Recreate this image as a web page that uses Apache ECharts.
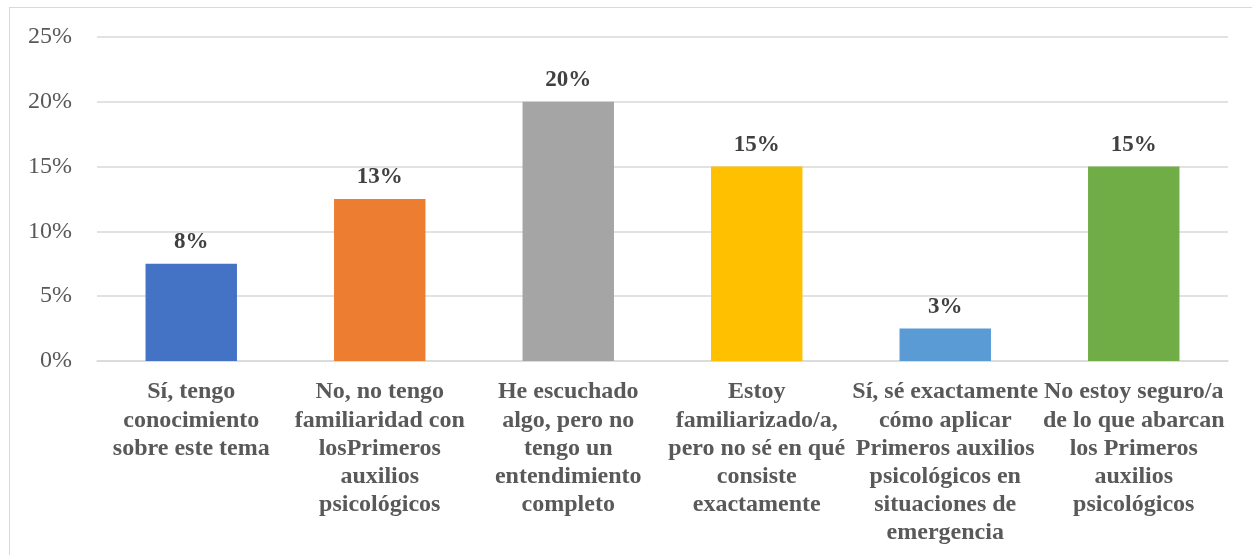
<!DOCTYPE html>
<html>
<head>
<meta charset="utf-8">
<script src="https://cdn.jsdelivr.net/npm/echarts@6/dist/echarts.min.js"></script>
<style>
  html, body { margin: 0; padding: 0; background: #fff; }
  #frame { position: absolute; left: 9px; top: 7px; width: 1260px; height: 560px; border-left: 1px solid #D9D9D9; border-top: 1px solid #D9D9D9; }
  #chart { position: absolute; left: 0; top: 0; width: 1252px; height: 555px; }
</style>
</head>
<body>
<div id="frame"></div>
<div id="chart"></div>
<script>
const categories = [
  'Sí, tengo\nconocimiento\nsobre este tema',
  'No, no tengo\nfamiliaridad con\nlosPrimeros\nauxilios\npsicológicos',
  'He escuchado\nalgo, pero no\ntengo un\nentendimiento\ncompleto',
  'Estoy\nfamiliarizado/a,\npero no sé en qué\nconsiste\nexactamente',
  'Sí, sé exactamente\ncómo aplicar\nPrimeros auxilios\npsicológicos en\nsituaciones de\nemergencia',
  'No estoy seguro/a\nde lo que abarcan\nlos Primeros\nauxilios\npsicológicos'
];
const values = [0.075, 0.125, 0.20, 0.15, 0.025, 0.15];
const valueLabels = ['8%', '13%', '20%', '15%', '3%', '15%'];
const colors = ['#4472C4', '#ED7D31', '#A5A5A5', '#FFC000', '#5B9BD5', '#70AD47'];

const chart = echarts.init(document.getElementById('chart'), null, { renderer: 'canvas' });
chart.setOption({
  animation: false,
  grid: { left: 97, right: 24, top: 37, bottom: 194 },
  xAxis: {
    type: 'category',
    data: categories,
    axisLine: { show: true, lineStyle: { color: '#D9D9D9', width: 1.5 } },
    axisTick: { show: false },
    axisLabel: {
      interval: 0,
      margin: 17,
      color: '#595959',
      fontFamily: '"Liberation Serif", "Times New Roman", serif',
      fontWeight: 'bold',
      fontSize: 24,
      lineHeight: 28.2
    }
  },
  yAxis: {
    type: 'value',
    min: 0,
    max: 0.25,
    interval: 0.05,
    axisLine: { show: false },
    axisTick: { show: false },
    splitLine: { lineStyle: { color: '#D9D9D9', width: 1.5 } },
    axisLabel: {
      margin: 25,
      color: '#595959',
      fontFamily: '"Liberation Serif", "Times New Roman", serif',
      fontSize: 24,
      formatter: v => Math.round(v * 100) + '%'
    }
  },
  series: [{
    type: 'bar',
    barWidth: '48.5%',
    data: values.map((v, i) => ({ value: v, itemStyle: { color: colors[i] } })),
    label: {
      show: true,
      position: 'top',
      distance: 10,
      color: '#404040',
      fontFamily: '"Liberation Serif", "Times New Roman", serif',
      fontWeight: 'bold',
      fontSize: 23,
      formatter: p => valueLabels[p.dataIndex]
    }
  }]
});
</script>
</body>
</html>
